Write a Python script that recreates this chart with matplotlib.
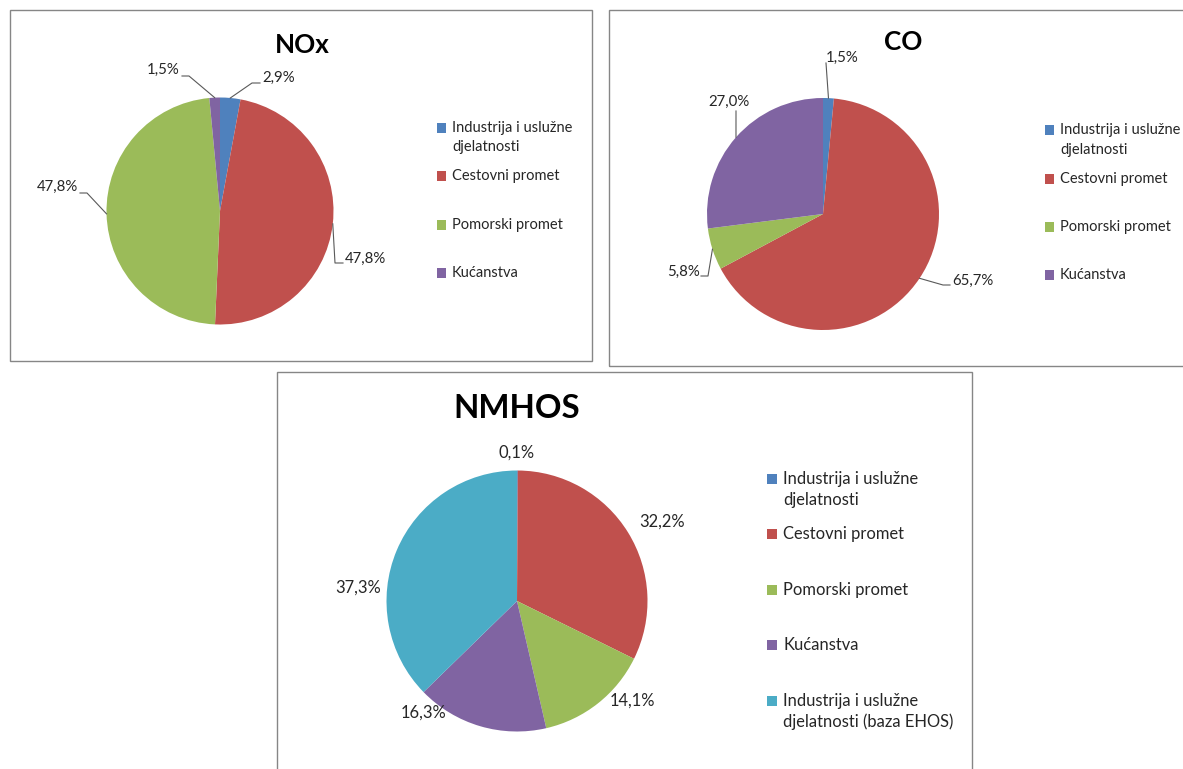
import numpy as np
import matplotlib.pyplot as plt
from matplotlib.patches import Rectangle

plt.rcParams['font.family'] = ['Lato', 'DejaVu Sans']

W, H = 1183, 769
PT = 0.72  # pixels -> points at dpi 100

# emission shares (%) per source
sources = ['Industrija i uslužne\ndjelatnosti', 'Cestovni promet', 'Pomorski promet',
           'Kućanstva', 'Industrija i uslužne\ndjelatnosti (baza EHOS)']
colors = ['#4F81BD', '#C0504D', '#9BBB59', '#8064A2', '#4BACC6']

nox_share = [2.9, 47.8, 47.8, 1.5]
co_share = [1.5, 65.7, 5.8, 27.0]
nmhos_share = [0.1, 32.2, 14.1, 16.3, 37.3]

# panel layout, all in image pixels (y measured from the top)
panels = [
    dict(title='NOx', values=nox_share, box=(10, 10, 592, 361),
         center=(220, 211), radius=113.5, title_xy=(302, 45), title_px=26,
         leg_x=437, leg_first=[128, 176, 225, 273], leg_lh=19, leg_px=14.6, lab_px=15,
         labels=[((262, 78), 'left', [(260, 83), (252, 83)]),
                 ((345, 259), 'left', [(343, 263), (335, 263)]),
                 ((78, 187), 'right', [(80, 193), (87, 193)]),
                 ((180, 70), 'right', [(182, 76), (189, 76)])]),
    dict(title='CO', values=co_share, box=(609, 10, 1200, 366),
         center=(823, 214), radius=116, title_xy=(903, 42), title_px=26,
         leg_x=1045, leg_first=[130, 179, 227, 275], leg_lh=20, leg_px=14.6, lab_px=15,
         labels=[((826, 58), 'left', [(826, 63)]),
                 ((952, 281), 'left', [(950, 285), (943, 285)]),
                 ((700, 272), 'right', [(701, 276), (708, 276)]),
                 ((729, 102), 'center', [(736, 111)])]),
    dict(title='NMHOS', values=nmhos_share, box=(277, 372, 972, 800),
         center=(517, 601), radius=130.5, title_xy=(517, 408), title_px=33,
         leg_x=767, leg_first=[479, 534, 590, 645, 701], leg_lh=21, leg_px=16.5, lab_px=16.5,
         labels=[((517, 453), 'center', None),
                 ((662, 522), 'center', None),
                 ((632, 701), 'center', None),
                 ((424, 713), 'center', None),
                 ((358, 588), 'center', None)]),
]


def fy(y):
    return H - y


fig = plt.figure(figsize=(W / 100, H / 100), dpi=100)
ax = fig.add_axes([0, 0, 1, 1])

for p in panels:
    x0, y0, x1, y1 = p['box']
    ax.add_patch(Rectangle((x0, fy(y1)), x1 - x0, y1 - y0, fill=False,
                           edgecolor='#868686', linewidth=1.0, zorder=1))

    cx, cy = p['center'][0], fy(p['center'][1])
    r = p['radius']
    n = len(p['values'])
    wedges, _ = ax.pie(p['values'], colors=colors[:n], startangle=90, counterclock=False,
                       center=(cx, cy), radius=r, wedgeprops=dict(linewidth=0))

    ax.text(p['title_xy'][0], fy(p['title_xy'][1]), p['title'], ha='center', va='center',
            fontsize=p['title_px'] * PT, fontweight='bold', color='black')

    for w, v, (txy, ha, leader) in zip(wedges, p['values'], p['labels']):
        ax.text(txy[0], fy(txy[1]), f'{v:.1f}%'.replace('.', ','), ha=ha, va='center',
                fontsize=p['lab_px'] * PT, color='#262626')
        if leader:
            mid = np.deg2rad((w.theta1 + w.theta2) / 2)
            pts = [(x, fy(y)) for x, y in leader]
            pts.append((cx + r * np.cos(mid), cy + r * np.sin(mid)))
            xs, ys = zip(*pts)
            ax.plot(xs, ys, color='#595959', linewidth=0.8)

    # legend, one square marker per source next to the first text line
    for i in range(n):
        y = p['leg_first'][i]
        sz = p['leg_px'] * 0.62
        ax.add_patch(Rectangle((p['leg_x'], fy(y) - sz / 2), sz, sz, facecolor=colors[i],
                               edgecolor='none'))
        for k, line in enumerate(sources[i].split('\n')):
            ax.text(p['leg_x'] + sz + 6, fy(y + k * p['leg_lh']), line, ha='left',
                    va='center', fontsize=p['leg_px'] * PT, color='#262626')

ax.set_xlim(0, W)
ax.set_ylim(0, H)
ax.set_aspect('auto')
ax.axis('off')

fig.savefig('out.png', dpi=100)
